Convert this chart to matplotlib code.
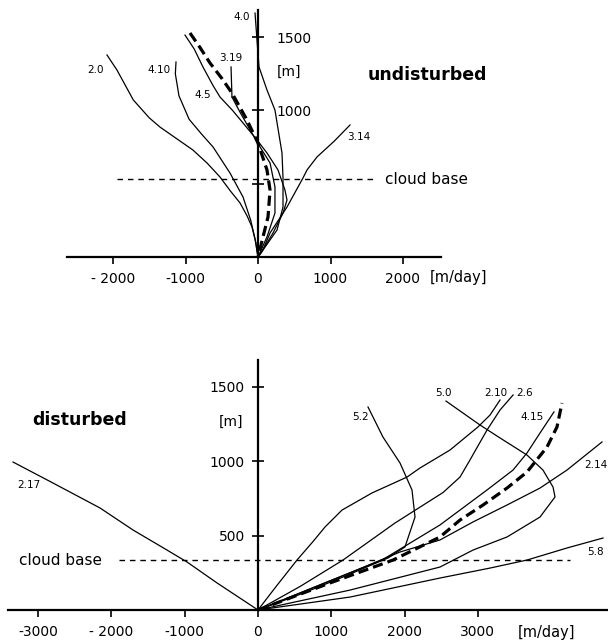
import matplotlib
matplotlib.use("Agg")
import matplotlib.pyplot as plt

plt.rcParams['font.family'] = ['DejaVu Sans']

# ---------------- undisturbed (top) ----------------
# each curve: x in m/day, height in m
u_2_0_x = [-2083, -1945, -1720, -1500, -1352, -1100, -897, -700, -524, -380, -248, -150, -83, -30, 0]
u_2_0_y = [1379, 1276, 1072, 950, 887, 800, 730, 640, 546, 450, 369, 280, 205, 100, 0]
u_4_10_x = [-1131, -1140, -1090, -950, -780, -620, -386, -207, -100, -40, 0]
u_4_10_y = [1331, 1250, 1100, 940, 840, 751, 573, 410, 250, 120, 0]
u_4_5_x = [-1007, -880, -759, -620, -524, -350, -207, -14, 124, 276, 372, 400, 345, 207, 80, 0]
u_4_5_y = [1515, 1420, 1297, 1170, 1092, 1000, 915, 799, 710, 594, 457, 389, 300, 164, 60, 0]
u_3_19_x = [-359, -250, -100, 28, 166, 234, 234, 124, 0]
u_3_19_y = [1092, 990, 860, 751, 642, 478, 300, 137, 0]
u_4_0_x = [-41, -14, 14, 124, 234, 331, 345, 345, 262, 69, 0]
u_4_0_y = [1665, 1481, 1297, 1140, 1003, 710, 539, 341, 184, 48, 0]
u_3_14_x = [1269, 1050, 814, 676, 620, 400, 166, 60, 0]
u_3_14_y = [901, 790, 683, 594, 539, 341, 164, 40, 0]
u_mean_x = [-938, -800, -662, -500, -359, -152, 0, 124, 166, 138, 69, 0]
u_mean_y = [1529, 1430, 1324, 1220, 1119, 935, 778, 594, 457, 273, 137, 0]
u_cloud_base = 532

u_labels = ["2.0", "4.10", "4.5", "3.19", "4.0", "3.14"]
u_label_x = [-2248, -1366, -759, -372, -221, 1393]
u_label_y = [1276, 1276, 1106, 1358, 1638, 819]

u_xticks = [-2000, -1000, 0, 1000, 2000]
u_xticklabels = ["- 2000", "-1000", "0", "1000", "2000"]
u_yticks = [500, 1000, 1500]
u_yticklabels = ["", "1000", "1500"]

# ---------------- disturbed (bottom) ----------------
d_2_17_x = [-3342, -2797, -2155, -1705, -1241, -969, -559, 0]
d_2_17_y = [995, 854, 686, 538, 403, 323, 182, 0]
d_5_2_x = [1501, 1705, 1937, 2101, 2142, 2005, 1774, 1200, 600, 0]
d_5_2_y = [1365, 1163, 989, 807, 625, 424, 350, 230, 110, 0]
d_2_10_x = [0, 250, 532, 750, 914, 1146, 1555, 2033, 2210, 2620, 3001, 3165, 3302]
d_2_10_y = [0, 160, 336, 460, 558, 672, 787, 894, 955, 1076, 1231, 1311, 1412]
d_2_6_x = [0, 580, 1160, 1869, 2524, 2756, 2892, 3124, 3302, 3480]
d_2_6_y = [0, 160, 336, 585, 790, 894, 1009, 1210, 1345, 1446]
d_4_15_x = [0, 1000, 1692, 2483, 2756, 3124, 3479, 3670, 3847, 4038]
d_4_15_y = [0, 200, 336, 572, 672, 807, 941, 1056, 1190, 1332]
d_2_14_x = [0, 1255, 1937, 2483, 2933, 3397, 3847, 4215, 4693]
d_2_14_y = [0, 250, 390, 471, 592, 706, 820, 941, 1130]
d_5_0_x = [2565, 3029, 3302, 3670, 3888, 4025, 4052, 3847, 3397, 2933, 2483, 1255, 0]
d_5_0_y = [1405, 1244, 1157, 1042, 941, 827, 760, 625, 491, 403, 289, 134, 0]
d_5_8_x = [4707, 4215, 3670, 3165, 2483, 1255, 0]
d_5_8_y = [484, 417, 336, 282, 215, 87, 0]
d_mean_x = [0, 1000, 1842, 2483, 2756, 3070, 3397, 3670, 3943, 4079, 4147]
d_mean_y = [0, 185, 336, 491, 605, 706, 820, 928, 1096, 1231, 1392]
d_cloud_base = 336

d_labels = ["2.17", "5.2", "5.0", "2.10", "2.6", "4.15", "2.14", "5.8"]
d_label_x = [-3124, 1392, 2524, 3247, 3643, 3738, 4611, 4598]
d_label_y = [841, 1298, 1459, 1459, 1459, 1298, 975, 390]

d_xticks = [-3000, -2000, -1000, 0, 1000, 2000, 3000]
d_xticklabels = ["-3000", "- 2000", "-1000", "0", "1000", "2000", "3000"]
d_yticks = [500, 1000, 1500]
d_yticklabels = ["500", "1000", "1500"]

W, H = 608, 642
fig = plt.figure(figsize=(W / 100, H / 100), dpi=100)

thin = dict(color="black", lw=0.9)
mean_style = dict(color="black", lw=2.3, dashes=(3.2, 1.6))
cb_style = dict(color="black", lw=1.0, dashes=(4, 3.5))
tick_fs = 10
lab_fs = 7.5
title_fs = 12.5
cb_fs = 11

# top panel: pixel scale -> data limits
ax1 = fig.add_axes([0, 1 - 330 / H, 1, 330 / H])
x0, sx = 258, 0.0725      # pixel of x=0, px per m/day
y0, sy = 257, 0.1465      # pixel of y=0, px per m
ax1.set_xlim(-x0 / sx, (W - x0) / sx)
ax1.set_ylim((y0 - 330) / sy, y0 / sy)

for xs, ys in [(u_2_0_x, u_2_0_y), (u_4_10_x, u_4_10_y), (u_4_5_x, u_4_5_y),
               (u_3_19_x, u_3_19_y), (u_4_0_x, u_4_0_y), (u_3_14_x, u_3_14_y)]:
    ax1.plot(xs, ys, **thin)
ax1.plot(u_mean_x, u_mean_y, **mean_style)
ax1.plot([-1945, 1640], [u_cloud_base] * 2, **cb_style)
ax1.plot([-372, -359], [1297, 1092], **thin)   # leader for 3.19

for t, x, y in zip(u_labels, u_label_x, u_label_y):
    ax1.text(x, y, t, fontsize=lab_fs, ha="center", va="center")

for s in ["left", "top"]:
    ax1.spines[s].set_visible(False)
ax1.spines["right"].set_position(("data", 0))
ax1.spines["bottom"].set_position(("data", 0))
ax1.spines["right"].set_bounds(0, 1685)
ax1.spines["bottom"].set_bounds(-2630, 2520)
for s in ["right", "bottom"]:
    ax1.spines[s].set_linewidth(1.6)
ax1.yaxis.set_ticks_position("right")
ax1.set_xticks(u_xticks, u_xticklabels, fontsize=tick_fs)
ax1.set_yticks(u_yticks, u_yticklabels, fontsize=tick_fs)
ax1.tick_params(axis="x", direction="out", length=5, width=1.2, pad=6)
ax1.tick_params(axis="y", direction="inout", length=9, width=1.2, pad=9)

ax1.text(262, 1263, "[m]", fontsize=tick_fs, ha="left", va="center")
ax1.text(2372, -143, "[m/day]", fontsize=tick_fs + 0.5, ha="left", va="center")
ax1.text(1517, 1242, "undisturbed", fontsize=title_fs, fontweight="bold",
         ha="left", va="center")
ax1.text(1752, u_cloud_base, "cloud base", fontsize=cb_fs, ha="left", va="center")

# bottom panel
ax2 = fig.add_axes([0, 0, 1, 302 / H])
x0, sx = 258, 0.0733
y0, sy = 610, 0.1487
ax2.set_xlim(-x0 / sx, (W - x0) / sx)
ax2.set_ylim((y0 - H) / sy, (y0 - 340) / sy)

for xs, ys in [(d_2_17_x, d_2_17_y), (d_5_2_x, d_5_2_y), (d_2_10_x, d_2_10_y),
               (d_2_6_x, d_2_6_y), (d_4_15_x, d_4_15_y), (d_2_14_x, d_2_14_y),
               (d_5_0_x, d_5_0_y), (d_5_8_x, d_5_8_y)]:
    ax2.plot(xs, ys, **thin)
ax2.plot(d_mean_x, d_mean_y, **mean_style)
ax2.plot([-1896, 4256], [d_cloud_base] * 2, **cb_style)

for t, x, y in zip(d_labels, d_label_x, d_label_y):
    ax2.text(x, y, t, fontsize=lab_fs, ha="center", va="center")

for s in ["right", "top"]:
    ax2.spines[s].set_visible(False)
ax2.spines["left"].set_position(("data", 0))
ax2.spines["bottom"].set_position(("data", 0))
ax2.spines["left"].set_bounds(0, 1681)
ax2.spines["bottom"].set_bounds(-3410, 4775)
for s in ["left", "bottom"]:
    ax2.spines[s].set_linewidth(1.6)
ax2.set_xticks(d_xticks, d_xticklabels, fontsize=tick_fs)
ax2.set_yticks(d_yticks, d_yticklabels, fontsize=tick_fs)
ax2.tick_params(axis="x", direction="out", length=5, width=1.2, pad=6)
ax2.tick_params(axis="y", direction="inout", length=9, width=1.2, pad=5)

ax2.text(-205, 1264, "[m]", fontsize=tick_fs, ha="right", va="center")
ax2.text(3547, -148, "[m/day]", fontsize=tick_fs + 0.5, ha="left", va="center")
ax2.text(-3083, 1278, "disturbed", fontsize=title_fs, fontweight="bold",
         ha="left", va="center")
ax2.text(-3260, d_cloud_base, "cloud base", fontsize=cb_fs, ha="left", va="center")

fig.savefig("out.png", dpi=100)
